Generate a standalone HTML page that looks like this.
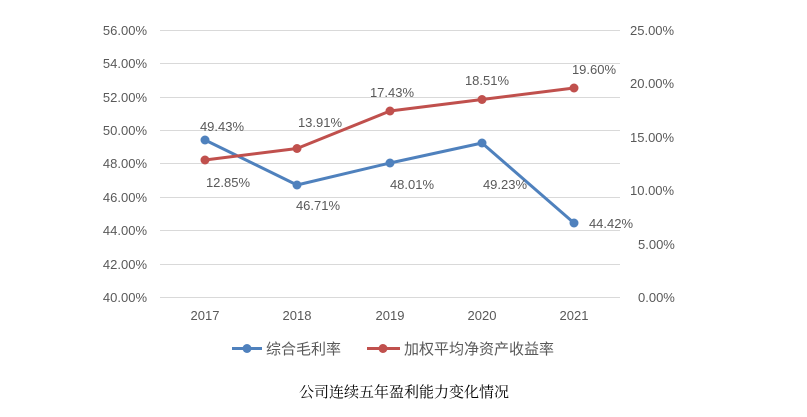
<!DOCTYPE html>
<html><head><meta charset="utf-8"><style>
body{margin:0;background:#fff;}
svg text{font-family:"Liberation Sans","Noto Sans CJK SC",sans-serif;fill:#595959;}
</style></head><body>
<svg width="807" height="412" viewBox="0 0 807 412" xmlns="http://www.w3.org/2000/svg">
<g stroke="#d9d9d9" stroke-width="1">
<line x1="160" x2="620" y1="30.5" y2="30.5"/><line x1="160" x2="620" y1="63.5" y2="63.5"/>
<line x1="160" x2="620" y1="97.5" y2="97.5"/><line x1="160" x2="620" y1="130.5" y2="130.5"/>
<line x1="160" x2="620" y1="163.5" y2="163.5"/><line x1="160" x2="620" y1="197.5" y2="197.5"/>
<line x1="160" x2="620" y1="230.5" y2="230.5"/><line x1="160" x2="620" y1="264.5" y2="264.5"/>
<line x1="160" x2="620" y1="297.5" y2="297.5"/>
</g>
<g font-size="13" text-anchor="end">
<text x="147" y="35">56.00%</text><text x="147" y="68">54.00%</text><text x="147" y="102">52.00%</text>
<text x="147" y="135">50.00%</text><text x="147" y="168">48.00%</text><text x="147" y="202">46.00%</text>
<text x="147" y="235">44.00%</text><text x="147" y="269">42.00%</text><text x="147" y="302">40.00%</text>
</g>
<g font-size="13" text-anchor="start">
<text x="630" y="35">25.00%</text><text x="630" y="88">20.00%</text><text x="630" y="142">15.00%</text>
<text x="630" y="195">10.00%</text><text x="638" y="249">5.00%</text><text x="638" y="302">0.00%</text>
</g>
<g font-size="13" text-anchor="middle">
<text x="205" y="320">2017</text><text x="297" y="320">2018</text><text x="390" y="320">2019</text>
<text x="482" y="320">2020</text><text x="574" y="320">2021</text>
</g>
<polyline points="205,140 297,185 390,163 482,143 574,223" fill="none" stroke="#4f81bd" stroke-width="3" stroke-linejoin="round"/>
<g fill="#4f81bd"><circle cx="205" cy="140" r="4.5"/><circle cx="297" cy="185" r="4.5"/><circle cx="390" cy="163" r="4.5"/><circle cx="482" cy="143" r="4.5"/><circle cx="574" cy="223" r="4.5"/></g>
<polyline points="205,160 297,148.5 390,111 482,99.5 574,88" fill="none" stroke="#c0504d" stroke-width="3" stroke-linejoin="round"/>
<g fill="#c0504d"><circle cx="205" cy="160" r="4.5"/><circle cx="297" cy="148.5" r="4.5"/><circle cx="390" cy="111" r="4.5"/><circle cx="482" cy="99.5" r="4.5"/><circle cx="574" cy="88" r="4.5"/></g>
<g font-size="13" text-anchor="middle">
<text x="222" y="131">49.43%</text><text x="318" y="210">46.71%</text><text x="412" y="189">48.01%</text>
<text x="505" y="189">49.23%</text><text x="611" y="228">44.42%</text>
<text x="228" y="187">12.85%</text><text x="320" y="127">13.91%</text><text x="392" y="97">17.43%</text>
<text x="487" y="85">18.51%</text><text x="594" y="74">19.60%</text>
</g>
<line x1="232" x2="262" y1="348.5" y2="348.5" stroke="#4f81bd" stroke-width="3"/><circle cx="247" cy="348.5" r="4.5" fill="#4f81bd"/>
<text x="266" y="354" font-size="15">综合毛利率</text>
<line x1="367" x2="400" y1="348.5" y2="348.5" stroke="#c0504d" stroke-width="3"/><circle cx="383" cy="348.5" r="4.5" fill="#c0504d"/>
<text x="404" y="354" font-size="15">加权平均净资产收益率</text>
<text x="404" y="397" font-size="15" text-anchor="middle" style="font-family:'Liberation Serif','Noto Serif CJK SC',serif;fill:#000">公司连续五年盈利能力变化情况</text>
</svg>
</body></html>
